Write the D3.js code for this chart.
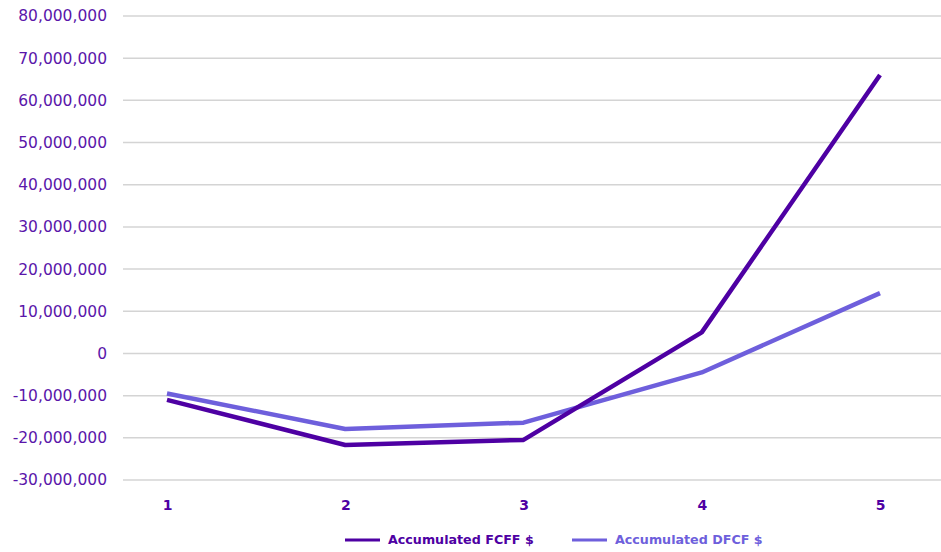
<!DOCTYPE html>
<html>
<head>
<meta charset="utf-8">
<script src="https://cdn.jsdelivr.net/npm/d3@7"></script>
<style>
  body { margin: 0; background: #fff; }
  svg { display: block; font-family: "DejaVu Sans", sans-serif; }
</style>
</head>
<body>
<div id="chart"></div>
<script>
const years = ["1", "2", "3", "4", "5"];
const fcff = [-11000000, -21700000, -20500000, 5000000, 66000000];
const dfcf = [-9500000, -17900000, -16400000, -4500000, 14300000];
const yTicks = [-30000000, -20000000, -10000000, 0, 10000000, 20000000, 30000000, 40000000, 50000000, 60000000, 70000000, 80000000];
const seriesNames = ["Accumulated FCFF $", "Accumulated DFCF $"];
const seriesColors = ["#4e00a3", "#6e5fdc"];

const width = 941;
const height = 552;

const svg = d3
  .select("#chart")
  .append("svg")
  .attr("width", width)
  .attr("height", height);

const x = d3.scalePoint().domain(years).range([167, 880]);
const y = d3.scaleLinear().domain([-30000000, 80000000]).range([480, 16]);

// gridlines
svg
  .append("g")
  .selectAll("line")
  .data(yTicks)
  .enter()
  .append("line")
  .attr("x1", 123)
  .attr("x2", width)
  .attr("y1", d => y(d))
  .attr("y2", d => y(d))
  .attr("stroke", "#d4d4d4")
  .attr("stroke-width", 1.5);

// y axis labels (plain hyphen for negatives, like the original)
const fmt = d3.format(",");
const yAxis = d3
  .axisLeft(y)
  .tickValues(yTicks)
  .tickSize(0)
  .tickPadding(0)
  .tickFormat(d => fmt(d).replace("\u2212", "-"));

svg
  .append("g")
  .attr("transform", "translate(107,0)")
  .call(yAxis)
  .call(g => g.select(".domain").remove())
  .selectAll("text")
  .attr("font-size", 15.5)
  .attr("font-family", "DejaVu Sans, sans-serif")
  .attr("fill", "#5a16aa");

// x axis labels
const xAxis = d3.axisBottom(x).tickSize(0).tickPadding(0);

svg
  .append("g")
  .attr("transform", "translate(0,500)")
  .call(xAxis)
  .call(g => g.select(".domain").remove())
  .selectAll("text")
  .attr("font-size", 14)
  .attr("font-weight", "bold")
  .attr("font-family", "DejaVu Sans, sans-serif")
  .attr("fill", "#4e00a3");

const line = d3
  .line()
  .x((d, i) => x(years[i]))
  .y(d => y(d));

// DFCF drawn first so FCFF sits on top
[dfcf, fcff].forEach((values, k) => {
  const idx = k === 0 ? 1 : 0;
  svg
    .append("path")
    .datum(values)
    .attr("d", line)
    .attr("fill", "none")
    .attr("stroke", seriesColors[idx])
    .attr("stroke-width", 4.5)
    .attr("stroke-linejoin", "round");
});

// legend
const legendX = [345, 572];
const legend = svg
  .append("g")
  .selectAll("g")
  .data(seriesNames)
  .enter()
  .append("g")
  .attr("transform", (d, i) => `translate(${legendX[i]},540)`);

legend
  .append("line")
  .attr("x1", 0)
  .attr("x2", 35)
  .attr("stroke", (d, i) => seriesColors[i])
  .attr("stroke-width", 3);

legend
  .append("text")
  .attr("x", 43)
  .attr("dy", "0.35em")
  .attr("font-size", 12.7)
  .attr("font-weight", "bold")
  .attr("fill", (d, i) => seriesColors[i])
  .text(d => d);
</script>
</body>
</html>
